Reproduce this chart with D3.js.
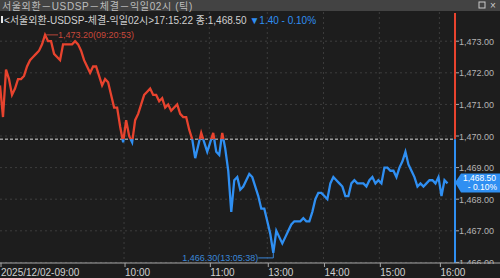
<!DOCTYPE html>
<html>
<head>
<meta charset="utf-8">
<script src="https://cdn.jsdelivr.net/npm/d3@7"></script>
<style>
html, body { margin: 0; padding: 0; background: #1d1d1d; overflow: hidden; }
svg { display: block; font-family: "Liberation Sans", "Noto Sans CJK KR", sans-serif; }
</style>
</head>
<body>
<script>
// ----- Data -----
const windowTitle = "서울외환－USDSP－체결－익일02시 (틱)";
const seriesName = "<서울외환-USDSP-체결-익일02시>";
const quoteTime = "17:15:22";
const closeText = "종:1,468.50";
const changeText = "▼1.40  - 0.10%";

// tick-by-tick prices, evenly spaced by trade sequence
const prices = [
    1471.6, 1470.6, 1472.1, 1471.8, 1471.3, 1471.5, 1471.8, 1471.8, 1471.9, 1472.2,
    1472.4, 1472.5, 1472.6, 1472.7, 1472.9, 1473.2, 1473.0, 1473.0, 1472.6, 1472.5,
    1472.4, 1472.9, 1472.9, 1472.9, 1472.9, 1473.0, 1472.9, 1472.7, 1472.4, 1472.2,
    1472.0, 1472.2, 1472.2, 1471.9, 1471.6, 1471.8, 1471.7, 1471.3, 1470.9, 1470.9,
    1470.3, 1469.8, 1470.5, 1470.0, 1469.8, 1470.5, 1470.7, 1471.0, 1471.3, 1471.4,
    1471.5, 1471.3, 1471.3, 1471.1, 1471.2, 1470.9, 1471.0, 1470.8, 1470.9, 1471.0,
    1470.7, 1470.6, 1470.6, 1470.2, 1469.9, 1469.3, 1469.7, 1470.1, 1469.8, 1469.5,
    1469.8, 1470.1, 1469.5, 1469.4, 1470.1, 1469.6, 1468.9, 1467.6, 1468.6, 1468.7,
    1468.3, 1468.4, 1468.6, 1468.8, 1468.7, 1468.4, 1468.1, 1467.7, 1467.7, 1467.3,
    1466.9, 1466.3, 1467.0, 1466.8, 1466.6, 1466.8, 1467.0, 1467.2, 1467.3, 1467.3,
    1467.3, 1467.4, 1467.3, 1467.3, 1467.6, 1468.0, 1468.2, 1468.2, 1468.1, 1468.0,
    1468.5, 1468.7, 1468.6, 1468.5, 1468.4, 1468.1, 1468.1, 1468.5, 1468.6, 1468.5,
    1468.5, 1468.5, 1468.4, 1468.6, 1468.7, 1468.5, 1468.6, 1468.5, 1469.0, 1469.0,
    1468.9, 1468.9, 1468.7, 1469.0, 1469.2, 1469.5, 1469.1, 1468.9, 1468.7, 1468.4,
    1468.5, 1468.4, 1468.5, 1468.6, 1468.6, 1468.5, 1468.7, 1468.1, 1468.6, 1468.5
];

// time labels and the trade sequence where each hour starts
const timeLabels = ["2025/12/02-09:00", "10:00", "11:00", "13:00", "14:00", "15:00", "16:00"];
const timeIndex = [0, 41.3, 69.7, 89, 107.7, 126.3, 146.3];

const priceTicks = [1466, 1467, 1468, 1469, 1470, 1471, 1472, 1473];
const prevClose = 1469.9;
const lastPrice = 1468.5;
const lastChangePct = "- 0.10%";
const highPoint = { index: 15, value: 1473.2, time: "09:20:53" };
const lowPoint = { index: 91, value: 1466.3, time: "13:05:38" };

// ----- Layout -----
const W = 500, H = 278;
const plotRight = 455, plotTop = 12, plotBottom = 263;
const red = "#e8432e", blue = "#2f8ff2";
const fmt = d3.format(",.2f");

const svg = d3.select("body").append("svg")
    .attr("width", W)
    .attr("height", H);

svg.append("rect").attr("width", W).attr("height", H).attr("fill", "#1d1d1d");

const x = d3.scaleLinear().domain([0, 151.5]).range([0, plotRight]);
const y = d3.scaleLinear().domain([1466, 1473]).range([262.4, 41.2]);

// grid
svg.append("g")
    .selectAll("line")
    .data(priceTicks)
    .join("line")
        .attr("x1", 0).attr("x2", plotRight)
        .attr("y1", d => y(d)).attr("y2", d => y(d))
        .attr("stroke", "#3d3d3d")
        .attr("stroke-dasharray", "2,3");

svg.append("g")
    .selectAll("line")
    .data(timeIndex.slice(1))
    .join("line")
        .attr("x1", d => x(d)).attr("x2", d => x(d))
        .attr("y1", plotTop).attr("y2", plotBottom)
        .attr("stroke", "#3d3d3d")
        .attr("stroke-dasharray", "2,3");

// previous close line
svg.append("line")
    .attr("x1", 0).attr("x2", plotRight)
    .attr("y1", y(prevClose)).attr("y2", y(prevClose))
    .attr("stroke", "#d8d8d8")
    .attr("stroke-dasharray", "3,2");

// price line, red above previous close and blue below
const defs = svg.append("defs");
defs.append("clipPath").attr("id", "clip-up")
    .append("rect").attr("x", 0).attr("y", 0).attr("width", plotRight).attr("height", y(prevClose));
defs.append("clipPath").attr("id", "clip-down")
    .append("rect").attr("x", 0).attr("y", y(prevClose)).attr("width", plotRight).attr("height", plotBottom - y(prevClose));

const line = d3.line()
    .x((d, i) => x(i))
    .y(d => y(d));

[["clip-up", red], ["clip-down", blue]].forEach(([id, color]) => {
    svg.append("path")
        .datum(prices)
        .attr("clip-path", `url(#${id})`)
        .attr("fill", "none")
        .attr("stroke", color)
        .attr("stroke-width", 2.3)
        .attr("stroke-linejoin", "miter")
        .attr("d", line);
});

// high / low annotations
const hx = x(highPoint.index), hy = y(highPoint.value);
svg.append("line")
    .attr("x1", hx + 1).attr("x2", hx + 13)
    .attr("y1", hy).attr("y2", hy)
    .attr("stroke", "#b8463a");
svg.append("text")
    .attr("x", hx + 13).attr("y", hy + 3.5)
    .attr("fill", "#c9483b")
    .style("font-size", "9px")
    .text(`${fmt(highPoint.value)}(${highPoint.time})`);

const lx = x(lowPoint.index), ly = y(lowPoint.value);
svg.append("path")
    .attr("d", `M${lx - 15},${ly + 5}H${lx}V${ly}`)
    .attr("fill", "none")
    .attr("stroke", "#3a86d8");
svg.append("text")
    .attr("x", lx - 15).attr("y", ly + 8.5)
    .attr("text-anchor", "end")
    .attr("fill", "#3a86d8")
    .style("font-size", "9px")
    .text(`${fmt(lowPoint.value)}(${lowPoint.time})`);

// right price axis
svg.append("line")
    .attr("x1", plotRight).attr("x2", plotRight)
    .attr("y1", plotTop + 1).attr("y2", y(prevClose))
    .attr("stroke", red).attr("stroke-width", 2);
svg.append("line")
    .attr("x1", plotRight).attr("x2", plotRight)
    .attr("y1", y(prevClose)).attr("y2", plotBottom)
    .attr("stroke", blue).attr("stroke-width", 2);

const rightAxis = svg.append("g");
rightAxis.selectAll("line")
    .data(priceTicks)
    .join("line")
        .attr("x1", plotRight + 1).attr("x2", plotRight + 4)
        .attr("y1", d => y(d)).attr("y2", d => y(d))
        .attr("stroke", "#aaa");
rightAxis.selectAll("text")
    .data(priceTicks)
    .join("text")
        .attr("x", plotRight + 4)
        .attr("y", d => y(d) + 3.5)
        .attr("fill", "#b4b4b4")
        .style("font-size", "9px")
        .text(d => fmt(d));

// last price box
const ly2 = y(lastPrice) - 1;
svg.append("path")
    .attr("d", `M${plotRight},${ly2}L${plotRight + 6},${ly2 - 9}H${W}V${ly2 + 10}H${plotRight + 6}Z`)
    .attr("fill", blue);
svg.append("text")
    .attr("x", 496).attr("y", ly2 - 1)
    .attr("text-anchor", "end")
    .attr("fill", "#fff")
    .style("font-size", "8.5px")
    .text(fmt(lastPrice));
svg.append("text")
    .attr("x", 497).attr("y", ly2 + 8)
    .attr("text-anchor", "end")
    .attr("fill", "#fff")
    .style("font-size", "8.5px")
    .text(lastChangePct);

// bottom time axis
svg.append("rect")
    .attr("x", 0).attr("y", plotBottom + 1).attr("width", W).attr("height", H - plotBottom)
    .attr("fill", "#1d1d1d");
svg.append("line")
    .attr("x1", 0).attr("x2", W)
    .attr("y1", plotBottom).attr("y2", plotBottom)
    .attr("stroke", "#a8a8a8");
const bottom = svg.append("g");
bottom.selectAll("line")
    .data(timeIndex)
    .join("line")
        .attr("x1", d => x(d) + 1).attr("x2", d => x(d) + 1)
        .attr("y1", plotBottom).attr("y2", plotBottom + 4)
        .attr("stroke", "#a8a8a8");
bottom.selectAll("text")
    .data(timeLabels)
    .join("text")
        .attr("x", (d, i) => x(timeIndex[i]) + 1)
        .attr("y", 276)
        .attr("fill", "#d0d0d0")
        .style("font-size", "10px")
        .text(d => d);

// title bar
svg.append("rect").attr("width", W).attr("height", 11).attr("fill", "#434343");
svg.append("text")
    .attr("x", 2).attr("y", 9.5)
    .attr("fill", "#bdbdbd")
    .style("font-size", "10px")
    .style("letter-spacing", "0.6px")
    .text(windowTitle);
svg.append("rect")
    .attr("x", 479).attr("y", 2).attr("width", 6).attr("height", 6)
    .attr("fill", "none").attr("stroke", "#ccc");
svg.append("text")
    .attr("x", 490).attr("y", 9)
    .attr("fill", "#ccc")
    .style("font-size", "10px")
    .text("×");

// legend row
svg.append("rect")
    .attr("x", 1).attr("y", 16).attr("width", 2).attr("height", 7)
    .attr("fill", "#e8e8e8");
const legend = svg.append("text")
    .attr("x", 4).attr("y", 23.5)
    .style("font-size", "10px");
legend.append("tspan").attr("fill", "#d0d0d0").text(seriesName);
legend.append("tspan").attr("fill", "#d0d0d0").text(quoteTime + " " + closeText + " ");
legend.append("tspan").attr("fill", blue).text(changeText);
</script>
</body>
</html>
